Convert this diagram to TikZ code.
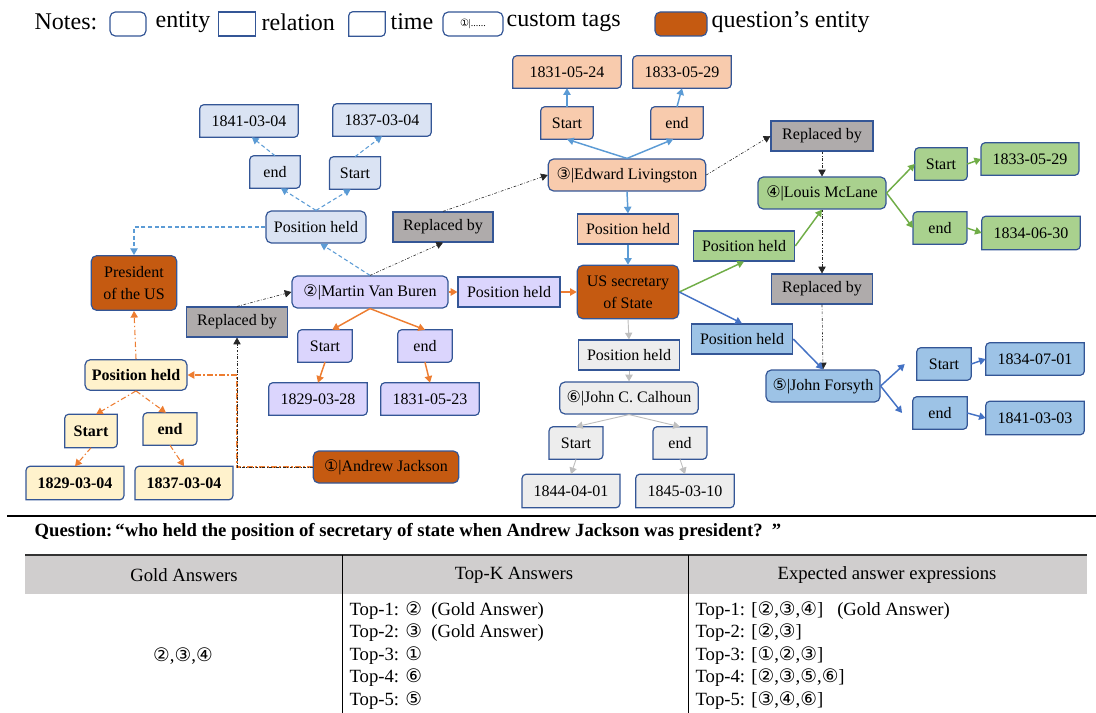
\documentclass[tikz,border=0pt]{standalone}
\usepackage{fontspec}
\setmainfont{Liberation Serif}
\newfontfamily\circfont{DejaVu Sans}
\usetikzlibrary{arrows.meta}
\usetikzlibrary{backgrounds}
\usetikzlibrary{positioning}
\definecolor{bdr}{RGB}{52,86,150}
\definecolor{fLb}{RGB}{218,227,243}
\definecolor{fLav}{RGB}{219,213,253}
\definecolor{fOr}{RGB}{197,90,17}
\definecolor{fPe}{RGB}{248,203,173}
\definecolor{fGr}{RGB}{169,209,142}
\definecolor{fBl}{RGB}{157,195,230}
\definecolor{fGy}{RGB}{237,237,237}
\definecolor{fRel}{RGB}{175,171,171}
\definecolor{fYe}{RGB}{255,242,204}
\definecolor{aLb}{RGB}{91,155,213}
\definecolor{aOr}{RGB}{237,125,49}
\definecolor{aGr}{RGB}{112,173,71}
\definecolor{aBl}{RGB}{68,114,196}
\definecolor{aGy}{RGB}{191,191,191}
\definecolor{hdr}{RGB}{208,206,206}
\newcommand{\cn}[1]{{\circfont #1}}
\tikzset{
	every node/.style={font=\fontsize{12}{14}\selectfont, inner sep=1pt},
	ent/.style={
		draw=bdr,
		line width=0.9pt,
		rounded corners=4pt,
		minimum height=24pt,
		align=center
	},
	rel/.style={
		draw=bdr,
		line width=0.9pt,
		minimum height=22.5pt
	},
	tm/.style={minimum height=24pt},
	date/.style={minimum width=73.5pt},
	qual/.style={minimum width=39pt},
	bold/.style={font=\fontsize{12}{14}\selectfont\bfseries},
	tbox/.style={draw=bdr, line width=0.9pt},
	link/.style={
		line width=1.1pt,
		-{Triangle[length=5pt,width=5.5pt]}
	},
	dlink/.style={link, line width=0.8pt, dash pattern=on 3pt off 2pt},
	ddlink/.style={link, line width=0.8pt, dash pattern=on 4pt off 2pt on 1pt off 2pt},
	glink/.style={link, line width=0.7pt},
	rep/.style={
		black!85,
		line width=0.45pt,
		dash pattern=on 2pt off 1.3pt on 0.5pt off 1.3pt,
		-{Triangle[length=5pt,width=5.5pt]}
	},
	lgfont/.style={font=\fontsize{18}{20}\selectfont},
	tbl/.style={font=\fontsize{14}{16.9}\selectfont},
}

\begin{document}
\begin{tikzpicture}[x=0.75pt,y=-0.75pt]
	\useasboundingbox (0,0) rectangle (1096,713);

	% legend
	\node[lgfont, anchor=west] (notes) at (33,22) {Notes:};
	\node[ent, fill=white, minimum width=27pt, minimum height=18pt] (lgEnt) at (128,24) {};
	\node[lgfont, anchor=west] (lgEntT) at (154,22) {entity};
	\node[rel, fill=white, minimum width=28pt, minimum height=18pt] (lgRel) at (237,24) {};
	\node[lgfont, anchor=west] (lgRelT) at (260,22) {relation};
	\node[tm, minimum width=27pt, minimum height=18pt] (lgTime) at (367,24) {};
	\node[lgfont, anchor=west] (lgTimeT) at (389,22) {time};
	\node[ent, fill=white, minimum width=45pt, minimum height=18pt, font=\fontsize{7.5}{9}\selectfont] (lgTag) at (473,24) {\cn{①}|......};
	\node[lgfont, anchor=west] (lgTagT) at (505,22) {custom tags};
	\node[ent, fill=fOr, minimum width=39pt, minimum height=18pt] (lgQ) at (681,24) {};
	\node[lgfont, anchor=west] (lgQT) at (710,22) {question’s entity};

	% Martin Van Buren as president
	\node[tm, date] (b41) at (249,121) {1841-03-04};
	\node[tm, date] (b37) at (382,120) {1837-03-04};
	\node[tm, qual, minimum width=37.5pt] (bEnd) at (275,172) {end};
	\node[tm, qual, minimum width=38pt] (bStart) at (355,173) {Start};
	\node[ent, fill=fLb, minimum width=75pt] (bPH) at (316,227) {Position held};
	\node[ent, fill=fOr, minimum width=64pt, minimum height=41pt, font=\fontsize{12}{16.5}\selectfont] (pres) at (134,283) {President\\of the US};

	% Martin Van Buren
	\node[ent, fill=fLav, minimum width=117pt] (vb) at (370,292) {\cn{②}|Martin Van Buren};
	\node[rel, fill=fRel, minimum width=75pt] (vbRep) at (443,227) {Replaced by};
	\node[rel, fill=fRel, minimum width=76pt] (ajRep) at (237,322) {Replaced by};
	\node[tm, qual, minimum width=40.5pt] (vStart) at (325,346) {Start};
	\node[tm, qual, minimum width=40.5pt] (vEnd) at (425,346) {end};
	\node[tm, date] (v29) at (318,399) {1829-03-28};
	\node[tm, date] (v31) at (430,399) {1831-05-23};
	\node[rel, fill=fLav, minimum width=76.5pt] (vbPH) at (509,292) {Position held};

	% Andrew Jackson
	\node[ent, fill=fOr, minimum width=109pt] (aj) at (386,467) {\cn{①}|Andrew Jackson};
	\node[ent, fill=fYe, bold, minimum width=76.5pt, minimum height=23pt] (yPH) at (136,375) {Position held};
	\node[tm, qual, bold, minimum height=24.75pt] (yStart) at (91,431) {Start};
	\node[tm, qual, bold, minimum width=40pt] (yEnd) at (170,429) {end};
	\node[tm, date, bold, minimum width=73pt, minimum height=24.75pt] (y29) at (75,483) {1829-03-04};
	\node[tm, date, bold, minimum width=73pt, minimum height=24.75pt] (y37) at (184,483) {1837-03-04};

	% secretary of state
	\node[ent, fill=fOr, minimum width=76pt, minimum height=40pt, font=\fontsize{12}{16.5}\selectfont] (sos) at (628,292) {US secretary\\of State};

	% Edward Livingston
	\node[ent, fill=fPe, minimum width=118pt] (el) at (627,175) {\cn{③}|Edward Livingston};
	\node[tm, qual] (eStart) at (567,123) {Start};
	\node[tm, qual] (eEnd) at (677,123) {end};
	\node[tm, date, minimum width=81pt] (e31) at (567,72) {1831-05-24};
	\node[tm, date] (e33) at (682,72) {1833-05-29};
	\node[rel, fill=fPe, minimum width=76pt] (elPH) at (628,229) {Position held};
	\node[rel, fill=fRel, minimum width=76.5pt] (elRep) at (822,136) {Replaced by};

	% Louis McLane
	\node[ent, fill=fGr, minimum width=96pt] (lm) at (822,193) {\cn{④}|Louis McLane};
	\node[tm, qual] (lStart) at (941,164) {Start};
	\node[tm, qual, minimum width=40pt] (lEnd) at (940,228) {end};
	\node[tm, date, minimum width=73pt] (l33) at (1030,159) {1833-05-29};
	\node[tm, date, minimum height=24.75pt] (l34) at (1031,233) {1834-06-30};
	\node[rel, fill=fGr, minimum width=76pt] (lmPH) at (744,246) {Position held};
	\node[rel, fill=fRel, minimum width=76pt] (lmRep) at (822,289) {Replaced by};

	% John Forsyth
	\node[rel, fill=fBl, minimum width=76pt] (jfPH) at (742,339) {Position held};
	\node[ent, fill=fBl, minimum width=85.5pt] (jf) at (823,386) {\cn{⑤}|John Forsyth};
	\node[tm, qual, minimum width=40.5pt] (fStart) at (944,364) {Start};
	\node[tm, qual, minimum width=40.5pt] (fEnd) at (940,413) {end};
	\node[tm, date] (f34) at (1035,359) {1834-07-01};
	\node[tm, date, minimum height=24.75pt] (f41) at (1035,418) {1841-03-03};

	% John C. Calhoun
	\node[rel, fill=fGy, minimum width=76pt] (jcPH) at (629,355) {Position held};
	\node[ent, fill=fGy, minimum width=104pt] (jc) at (629,398) {\cn{⑥}|John C. Calhoun};
	\node[tm, qual, minimum width=40pt] (cStart) at (576,443) {Start};
	\node[tm, qual, minimum width=40pt] (cEnd) at (680,443) {end};
	\node[tm, date, minimum width=73pt, minimum height=24.75pt] (c44) at (571,491) {1844-04-01};
	\node[tm, date, minimum height=24.75pt] (c45) at (685,491) {1845-03-10};

	% time boxes: top left and bottom right corners rounded
	\begin{scope}[on background layer]
		\foreach \n/\c in {b41/fLb, b37/fLb, bEnd/fLb, bStart/fLb,
				yStart/fYe, yEnd/fYe, y29/fYe, y37/fYe,
				vStart/fLav, vEnd/fLav, v29/fLav, v31/fLav,
				eStart/fPe, eEnd/fPe, e31/fPe, e33/fPe,
				lStart/fGr, lEnd/fGr, l33/fGr, l34/fGr,
				fStart/fBl, fEnd/fBl, f34/fBl, f41/fBl,
				cStart/fGy, cEnd/fGy, c44/fGy, c45/fGy, lgTime/white}
			\draw[tbox, fill=\c] (\n.west) [rounded corners=3pt] -- (\n.north west) -- (\n.north)
				[sharp corners] -- (\n.north east) -- (\n.east)
				[rounded corners=3pt] -- (\n.south east) -- (\n.south)
				[sharp corners] -- (\n.south west) -- cycle;
	\end{scope}

	% blue dashed
	\draw[dlink, aLb] (bPH.north) -- (bEnd.-70);
	\draw[dlink, aLb] (bPH.north) -- (bStart.-105);
	\draw[dlink, aLb] (bEnd.north) -- (b41.-80);
	\draw[dlink, aLb] (bStart.north) -- (b37.south);
	\draw[dlink, aLb] (vb.north) -- (bPH.-75);
	\draw[dlink, aLb] (bPH.west) -| (pres.north);

	% orange
	\draw[link, aOr] (vb.south) -- (vStart.66);
	\draw[link, aOr] (vb.south) -- (vEnd.north);
	\draw[link, aOr] (vStart.south) -- (v29.north);
	\draw[link, aOr] (vEnd.south) -- (v31.north);
	\draw[link, aOr] (vb.east) -- (vbPH.west);
	\draw[link, aOr] (vbPH.east) -- (sos.west);

	% orange dash dot
	\coordinate (ajBend) at (ajRep.south |- aj.west);
	\draw[ddlink, aOr] (yPH.north) -- (pres.south);
	\draw[ddlink, aOr] (yPH.south) -- (yStart.73);
	\draw[ddlink, aOr] (yPH.south) -- (yEnd.104);
	\draw[ddlink, aOr] (yStart.south) -- (y29.north);
	\draw[ddlink, aOr] (yEnd.south) -- (y37.north);
	\draw[ddlink, aOr] (aj.west) -- (ajBend) |- (yPH.east);

	% replaced by
	\draw[rep] (vb.north) -- (vbRep.south);
	\draw[rep] (vbRep.north) -- (el.west);
	\draw[rep] (ajRep.north) -- (vb.west);
	\draw[rep] (aj.west) -- (ajBend) -- (ajRep.south);
	\draw[rep] (el.east) -- (elRep.west);
	\draw[rep] (elRep.south) -- (lm.north);
	\draw[rep] (lm.south) -- (lmRep.north);
	\draw[rep] (lmRep.south) -- (jf.north);

	% light blue
	\draw[link, aLb] (el.north) -- (eStart.south);
	\draw[link, aLb] (el.north) -- (eEnd.-103);
	\draw[link, aLb] (eStart.north) -- (e31.south);
	\draw[link, aLb] (eEnd.north) -- (e33.south);
	\draw[link, aLb] (el.south) -- (elPH.north);
	\draw[link, aLb] (elPH.south) -- (sos.north);

	% green
	\draw[link, aGr] (sos.east) -- (lmPH.south);
	\draw[link, aGr] (lmPH.east) -- (lm.south);
	\draw[link, aGr] (lm.east) -- (lStart.west);
	\draw[link, aGr] (lm.east) -- (lEnd.west);
	\draw[link, aGr] (lStart.east) -- (l33.west);
	\draw[link, aGr] (lEnd.east) -- (l34.west);

	% blue
	\draw[link, aBl] (sos.east) -- (jfPH.north);
	\draw[link, aBl] (jfPH.east) -- (jf.north);
	\draw[link, aBl] (jf.east) -- ([xshift=-9pt]fStart.west);
	\draw[link, aBl] (jf.east) -- ([xshift=-8pt]fEnd.west);
	\draw[link, aBl] (fStart.east) -- (f34.west);
	\draw[link, aBl] (fEnd.east) -- (f41.west);

	% gray
	\draw[glink, aGy] (sos.south) -- (jcPH.north);
	\draw[glink, aGy] (jcPH.south) -- (jc.north);
	\draw[glink, aGy] (jc.south) -- (cStart.north);
	\draw[glink, aGy] (jc.south) -- (cEnd.north);
	\draw[glink, aGy] (cStart.south) -- (c44.north);
	\draw[glink, aGy] (cEnd.south) -- (c45.north);

	% question and table
	\draw[line width=1.5pt] (7,516) -- (1096,516);
	\node[font=\fontsize{14}{16}\selectfont\bfseries, anchor=west] (quest) at (33,532)
		{Question:\,“who held the position of secretary of state when Andrew Jackson was president?\ \ ”};
	\fill[hdr] (25,555) rectangle (1087,594);
	\draw[line width=0.9pt, black!80] (25,555) -- (1087,555);
	\draw[line width=0.6pt] (342,555) -- (342,713);
	\draw[line width=0.6pt] (688,555) -- (688,713);
	\node[tbl] (hGold) at (184,575) {Gold Answers};
	\node[tbl] (hTopk) at (514,575) {Top-K Answers};
	\node[tbl] (hExp) at (887,575) {Expected answer expressions};
	\node[tbl] (gold) at (183,656) {\cn{②},\cn{③},\cn{④}};
	\node[tbl, anchor=north west, align=left] (topk) at (348,600)
		{Top-1: \cn{②}\ \ (Gold Answer)\\
		Top-2: \cn{③}\ \ (Gold Answer)\\
		Top-3: \cn{①}\\
		Top-4: \cn{⑥}\\
		Top-5: \cn{⑤}};
	\node[tbl, anchor=north west, align=left] (expect) at (694,600)
		{Top-1: [\cn{②},\cn{③},\cn{④}]\ \ \ (Gold Answer)\\
		Top-2: [\cn{②},\cn{③}]\\
		Top-3: [\cn{①},\cn{②},\cn{③}]\\
		Top-4: [\cn{②},\cn{③},\cn{⑤},\cn{⑥}]\\
		Top-5: [\cn{③},\cn{④},\cn{⑥}]};
\end{tikzpicture}
\end{document}
